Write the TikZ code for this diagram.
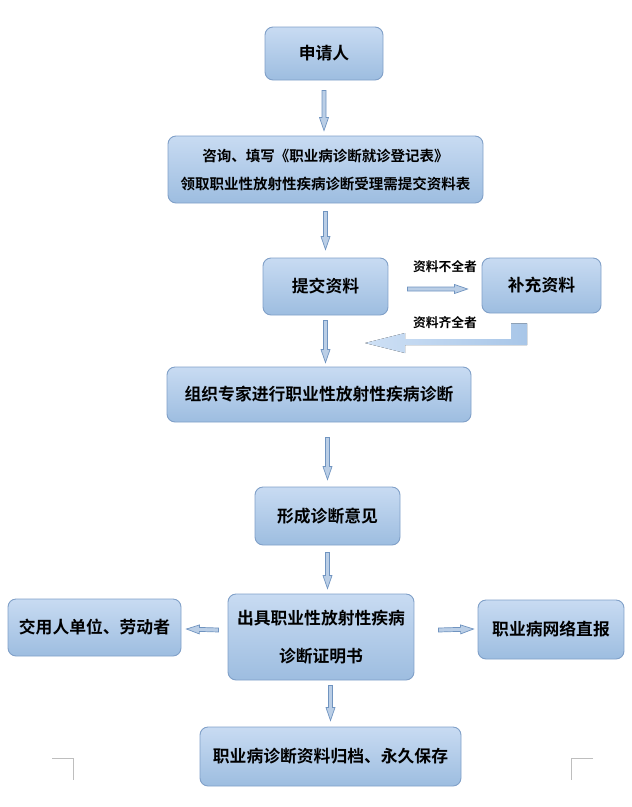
\documentclass[tikz,border=0pt]{standalone}
\usepackage{fontspec}
\setmainfont{Noto Sans CJK SC}[BoldFont=* Bold]
\usepackage{tikz}
\usetikzlibrary{arrows.meta, positioning, calc}
\definecolor{boxtop}{RGB}{200,219,242}
\definecolor{boxbot}{RGB}{157,189,224}
\definecolor{boxline}{RGB}{128,160,200}
\definecolor{arrfill}{RGB}{186,206,230}
\definecolor{arrline}{RGB}{112,148,192}
\definecolor{backleft}{RGB}{206,224,245}
\definecolor{backright}{RGB}{168,198,232}
\definecolor{markgray}{RGB}{190,190,190}
\tikzset{
    block_blue/.style={rectangle, draw=boxline, line width=0.9pt, rounded corners=8pt, top color=boxtop, bottom color=boxbot, inner sep=0pt, align=center, font=\bfseries\fontsize{16.8}{20}\selectfont},
    label_small/.style={inner sep=0pt, font=\bfseries\fontsize{12.8}{14}\selectfont},
    arrow_block/.style={draw=arrline, fill=arrfill, line width=0.7pt,
        to path={let \p1=(\tikztostart), \p2=(\tikztotarget), \n1={atan2(\y2-\y1,\x2-\x1)}, \n2={veclen(\x2-\x1,\y2-\y1)} in
            ([shift={(\p1)},rotate=\n1]0pt,-2pt) -- ([shift={(\p1)},rotate=\n1]\n2-13pt,-2pt)
            -- ([shift={(\p1)},rotate=\n1]\n2-13pt,-4.5pt) -- ([shift={(\p1)},rotate=\n1]\n2,0pt)
            -- ([shift={(\p1)},rotate=\n1]\n2-13pt,4.5pt) -- ([shift={(\p1)},rotate=\n1]\n2-13pt,2pt)
            -- ([shift={(\p1)},rotate=\n1]0pt,2pt) -- cycle}},
    page_mark/.style={draw=markgray, line width=0.8pt}
}
\begin{document}
\begin{tikzpicture}[x=1pt, y=1pt]
			\useasboundingbox (0,0) rectangle (632,-807);
			\node (apply) [block_blue, minimum width=118, minimum height=53] at (324,-53.5) {申请人};
			\node (consult) [block_blue, minimum width=315, minimum height=67, font=\bfseries\fontsize{14.5}{28}\selectfont] at (325.5,-169.5) {咨询、填写《职业病诊断就诊登记表》\\领取职业性放射性疾病诊断受理需提交资料表};
			\node (submit) [block_blue, minimum width=125, minimum height=57] at (325.5,-286.5) {提交资料};
			\node (supp) [block_blue, minimum width=119, minimum height=55] at (541.5,-285.5) {补充资料};
			\node (org) [block_blue, minimum width=304, minimum height=55] at (319,-394.5) {组织专家进行职业性放射性疾病诊断};
			\node (opinion) [block_blue, minimum width=145, minimum height=58] at (327.5,-516) {形成诊断意见};
			\node (cert) [block_blue, minimum width=186, minimum height=86, font=\bfseries\fontsize{16.8}{38}\selectfont] at (321,-637) {出具职业性放射性疾病\\诊断证明书};
			\node (unit) [block_blue, minimum width=173, minimum height=57] at (94.5,-627.5) {交用人单位、劳动者};
			\node (report) [block_blue, minimum width=146, minimum height=59] at (551,-629.5) {职业病网络直报};
			\node (archive) [block_blue, minimum width=261, minimum height=59] at (330.5,-756.5) {职业病诊断资料归档、永久保存};
			
			\node (lack) [label_small] at (445,-267) {资料不全者};
			\node (full) [label_small] at (445,-323) {资料齐全者};
			
			\draw [arrow_block] ([yshift=-10pt]apply.south) to ([yshift=5pt]apply.south |- consult.north);
			\draw [arrow_block] ([yshift=-8pt]consult.south) to ([yshift=8pt]submit.north);
			\draw [arrow_block] ([yshift=-5pt]submit.south) to ([yshift=4pt]submit.south |- org.north);
			\draw [arrow_block] ([yshift=-15pt]opinion.north |- org.south) to ([yshift=7pt]opinion.north);
			\draw [arrow_block] ([yshift=-7pt]opinion.south) to ([yshift=5pt]opinion.south |- cert.north);
			\draw [arrow_block] ([yshift=-5pt]archive.north |- cert.south) to ([yshift=6pt]archive.north);
			\draw [arrow_block] ([xshift=19pt,yshift=-2.5pt]submit.east) to ([xshift=-14pt,yshift=-3.5pt]supp.west);
			\draw [arrow_block] ([xshift=-9pt,yshift=7pt]cert.west) to ([xshift=5pt,yshift=-1.5pt]unit.east);
			\draw [arrow_block] ([xshift=24pt,yshift=7pt]cert.east) to ([xshift=-4pt,yshift=0.5pt]report.west);
			
			% back arrow from supp to the main line
			\coordinate (back_top) at ([xshift=-14.5pt,yshift=-10pt]supp.south);
			\coordinate (back_tip) at (365,-343);
			\fill [left color=backleft, right color=backright] let \p1=(back_top), \p2=(back_tip) in
				(\p2) -- (\x2+40pt,\y2+10pt) -- (\x2+40pt,\y2+4pt) -- (\x1-16pt,\y2+4pt) -- (\x1-16pt,\y1)
				-- (\x1,\y1) -- (\x1,\y2-2pt) -- (\x2+40pt,\y2-2pt) -- (\x2+40pt,\y2-10pt) -- cycle;
			
			% page corner marks
			\draw [page_mark] (52,-758) -- (73,-758) -- (73,-780);
			\draw [page_mark] (593,-758) -- (571,-758) -- (571,-780);
		\end{tikzpicture}
\end{document}
